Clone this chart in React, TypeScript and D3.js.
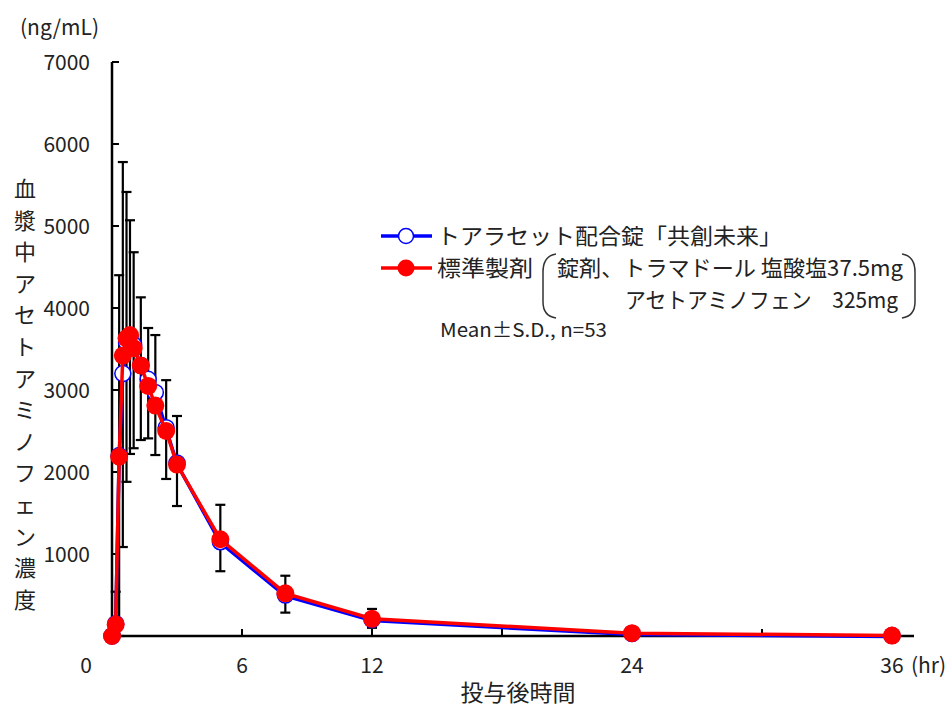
import React from "react";
import * as d3 from "d3";

const times = [0, 0.17, 0.33, 0.5, 0.67, 0.83, 1, 1.33, 1.67, 2, 2.5, 3, 5, 8, 12, 24, 36];
const testValues = [0, 150, 2200, 3200, 3580, 3650, 3550, 3300, 3130, 2970, 2540, 2110, 1150, 500, 200, 30, 5];
const refValues = [0, 140, 2187, 3420, 3630, 3670, 3510, 3300, 3050, 2810, 2500, 2090, 1180, 520, 210, 35, 5];
const errHigh = [0, 540, 4400, 5780, 5415, 5070, 4680, 4130, 3756, 3670, 3120, 2683, 1600, 735, 330, 60, 10];
const errLow = [0, 0, 0, 1085, 1880, 2220, 2290, 2390, 2410, 2207, 1915, 1585, 790, 285, 100, 10, 0];
const yTicks = [1000, 2000, 3000, 4000, 5000, 6000, 7000];
const xTicks = [6, 12, 18, 24, 30, 36];
const xTickLabels = [6, 12, 24, 36];
const yTitle = "血漿中アセトアミノフェン濃度";
const legendTest = "トアラセット配合錠「共創未来」";
const legendRef = "標準製剤";
const legendRefLine1 = "錠剤、トラマドール 塩酸塩37.5mg";
const legendRefLine2 = "アセトアミノフェン　325mg";
const note = "Mean±S.D., n=53";

const FONT = "'Noto Sans CJK JP', 'Noto Sans', sans-serif";
const TXT = "#222";

export default function App() {
  const W = 950, H = 708;
  const x = d3.scaleLinear().domain([0, 36]).range([112, 892]);
  const y = d3.scaleLinear().domain([0, 7000]).range([636, 62]);
  const line = d3.line<number>().x((_, i) => x(times[i])).y((v) => y(v));
  const capW = 5;
  return (
    <svg width={W} height={H} style={{ position: "absolute", left: 0, top: 0, background: "#fff" }} fontFamily={FONT}>
      {/* axes */}
      <line x1={x(0)} y1={y(7000)} x2={x(0)} y2={y(0)} stroke="#000" strokeWidth={2.5} />
      <line x1={x(0)} y1={y(0)} x2={914} y2={y(0)} stroke="#000" strokeWidth={2.5} />
      {yTicks.map((t) => (
        <g key={"yt" + t}>
          <line x1={x(0)} x2={x(0) + 7} y1={y(t)} y2={y(t)} stroke="#000" strokeWidth={2} />
          <text x={90} y={y(t) + 8} textAnchor="end" fontSize={21} fill={TXT}>{t}</text>
        </g>
      ))}
      {xTicks.map((t) => (
        <line key={"xt" + t} x1={x(t)} x2={x(t)} y1={y(0)} y2={y(0) - 7} stroke="#000" strokeWidth={2} />
      ))}
      {xTickLabels.map((t) => (
        <text key={"xl" + t} x={x(t)} y={673} textAnchor="middle" fontSize={21} fill={TXT}>{t}</text>
      ))}
      <text x={86} y={673} textAnchor="middle" fontSize={21} fill={TXT}>0</text>
      <text x={911} y={673} fontSize={21} fill={TXT}>(hr)</text>
      <text x={20} y={35} fontSize={21} fill={TXT}>(ng/mL)</text>
      <text x={518} y={701} textAnchor="middle" fontSize={23} fill={TXT}>投与後時間</text>
      {Array.from(yTitle).map((c, i) => (
        <text key={"yc" + i} x={25} y={197 + i * 31.6} textAnchor="middle" fontSize={22} fill={TXT}>{c}</text>
      ))}
      {/* error bars */}
      {times.map((t, i) => {
        if (errHigh[i] <= 0) return null;
        const cx = x(t);
        return (
          <g key={"eb" + i} stroke="#000" strokeWidth={2.2}>
            <line x1={cx} x2={cx} y1={y(errLow[i])} y2={y(errHigh[i])} />
            <line x1={cx - capW} x2={cx + capW} y1={y(errHigh[i])} y2={y(errHigh[i])} />
            <line x1={cx - capW} x2={cx + capW} y1={y(errLow[i])} y2={y(errLow[i])} />
          </g>
        );
      })}
      {/* test series */}
      <path d={line(testValues) || ""} fill="none" stroke="#0000ff" strokeWidth={3.5} transform="translate(0,1)" />
      {testValues.map((v, i) => (
        <circle key={"tc" + i} cx={x(times[i])} cy={y(v)} r={8} fill="#fff" stroke="#0000ff" strokeWidth={1.5} />
      ))}
      {/* reference series */}
      <path d={line(refValues) || ""} fill="none" stroke="#ff0000" strokeWidth={3.5} />
      {refValues.map((v, i) => (
        <circle key={"rc" + i} cx={x(times[i])} cy={y(v)} r={9} fill="#ff0000" />
      ))}
      {/* legend */}
      <line x1={381} x2={432} y1={236} y2={236} stroke="#0000ff" strokeWidth={3.5} />
      <circle cx={406} cy={236} r={7.5} fill="#fff" stroke="#0000ff" strokeWidth={1.5} />
      <text x={437} y={244} fontSize={22} fill={TXT} textLength={345} lengthAdjust="spacingAndGlyphs">{legendTest}</text>
      <line x1={381} x2={432} y1={268} y2={268} stroke="#ff0000" strokeWidth={3.5} />
      <circle cx={406} cy={268} r={8.5} fill="#ff0000" />
      <text x={437} y={276} fontSize={22} fill={TXT} textLength={96} lengthAdjust="spacingAndGlyphs">{legendRef}</text>
      <path d="M 556 254 Q 543 256 543 272 L 543 302 Q 543 316 556 318" fill="none" stroke="#333" strokeWidth={1.5} />
      <text x={557} y={276} fontSize={22} fill={TXT} textLength={346} lengthAdjust="spacingAndGlyphs">{legendRefLine1}</text>
      <text x={625} y={308} fontSize={22} fill={TXT} textLength={273} lengthAdjust="spacingAndGlyphs">{legendRefLine2}</text>
      <path d="M 902 254 Q 915 256 915 272 L 915 302 Q 915 316 902 318" fill="none" stroke="#333" strokeWidth={1.5} />
      <text x={440} y={337} fontSize={19} fill={TXT} textLength={167} lengthAdjust="spacingAndGlyphs">{note}</text>
    </svg>
  );
}
